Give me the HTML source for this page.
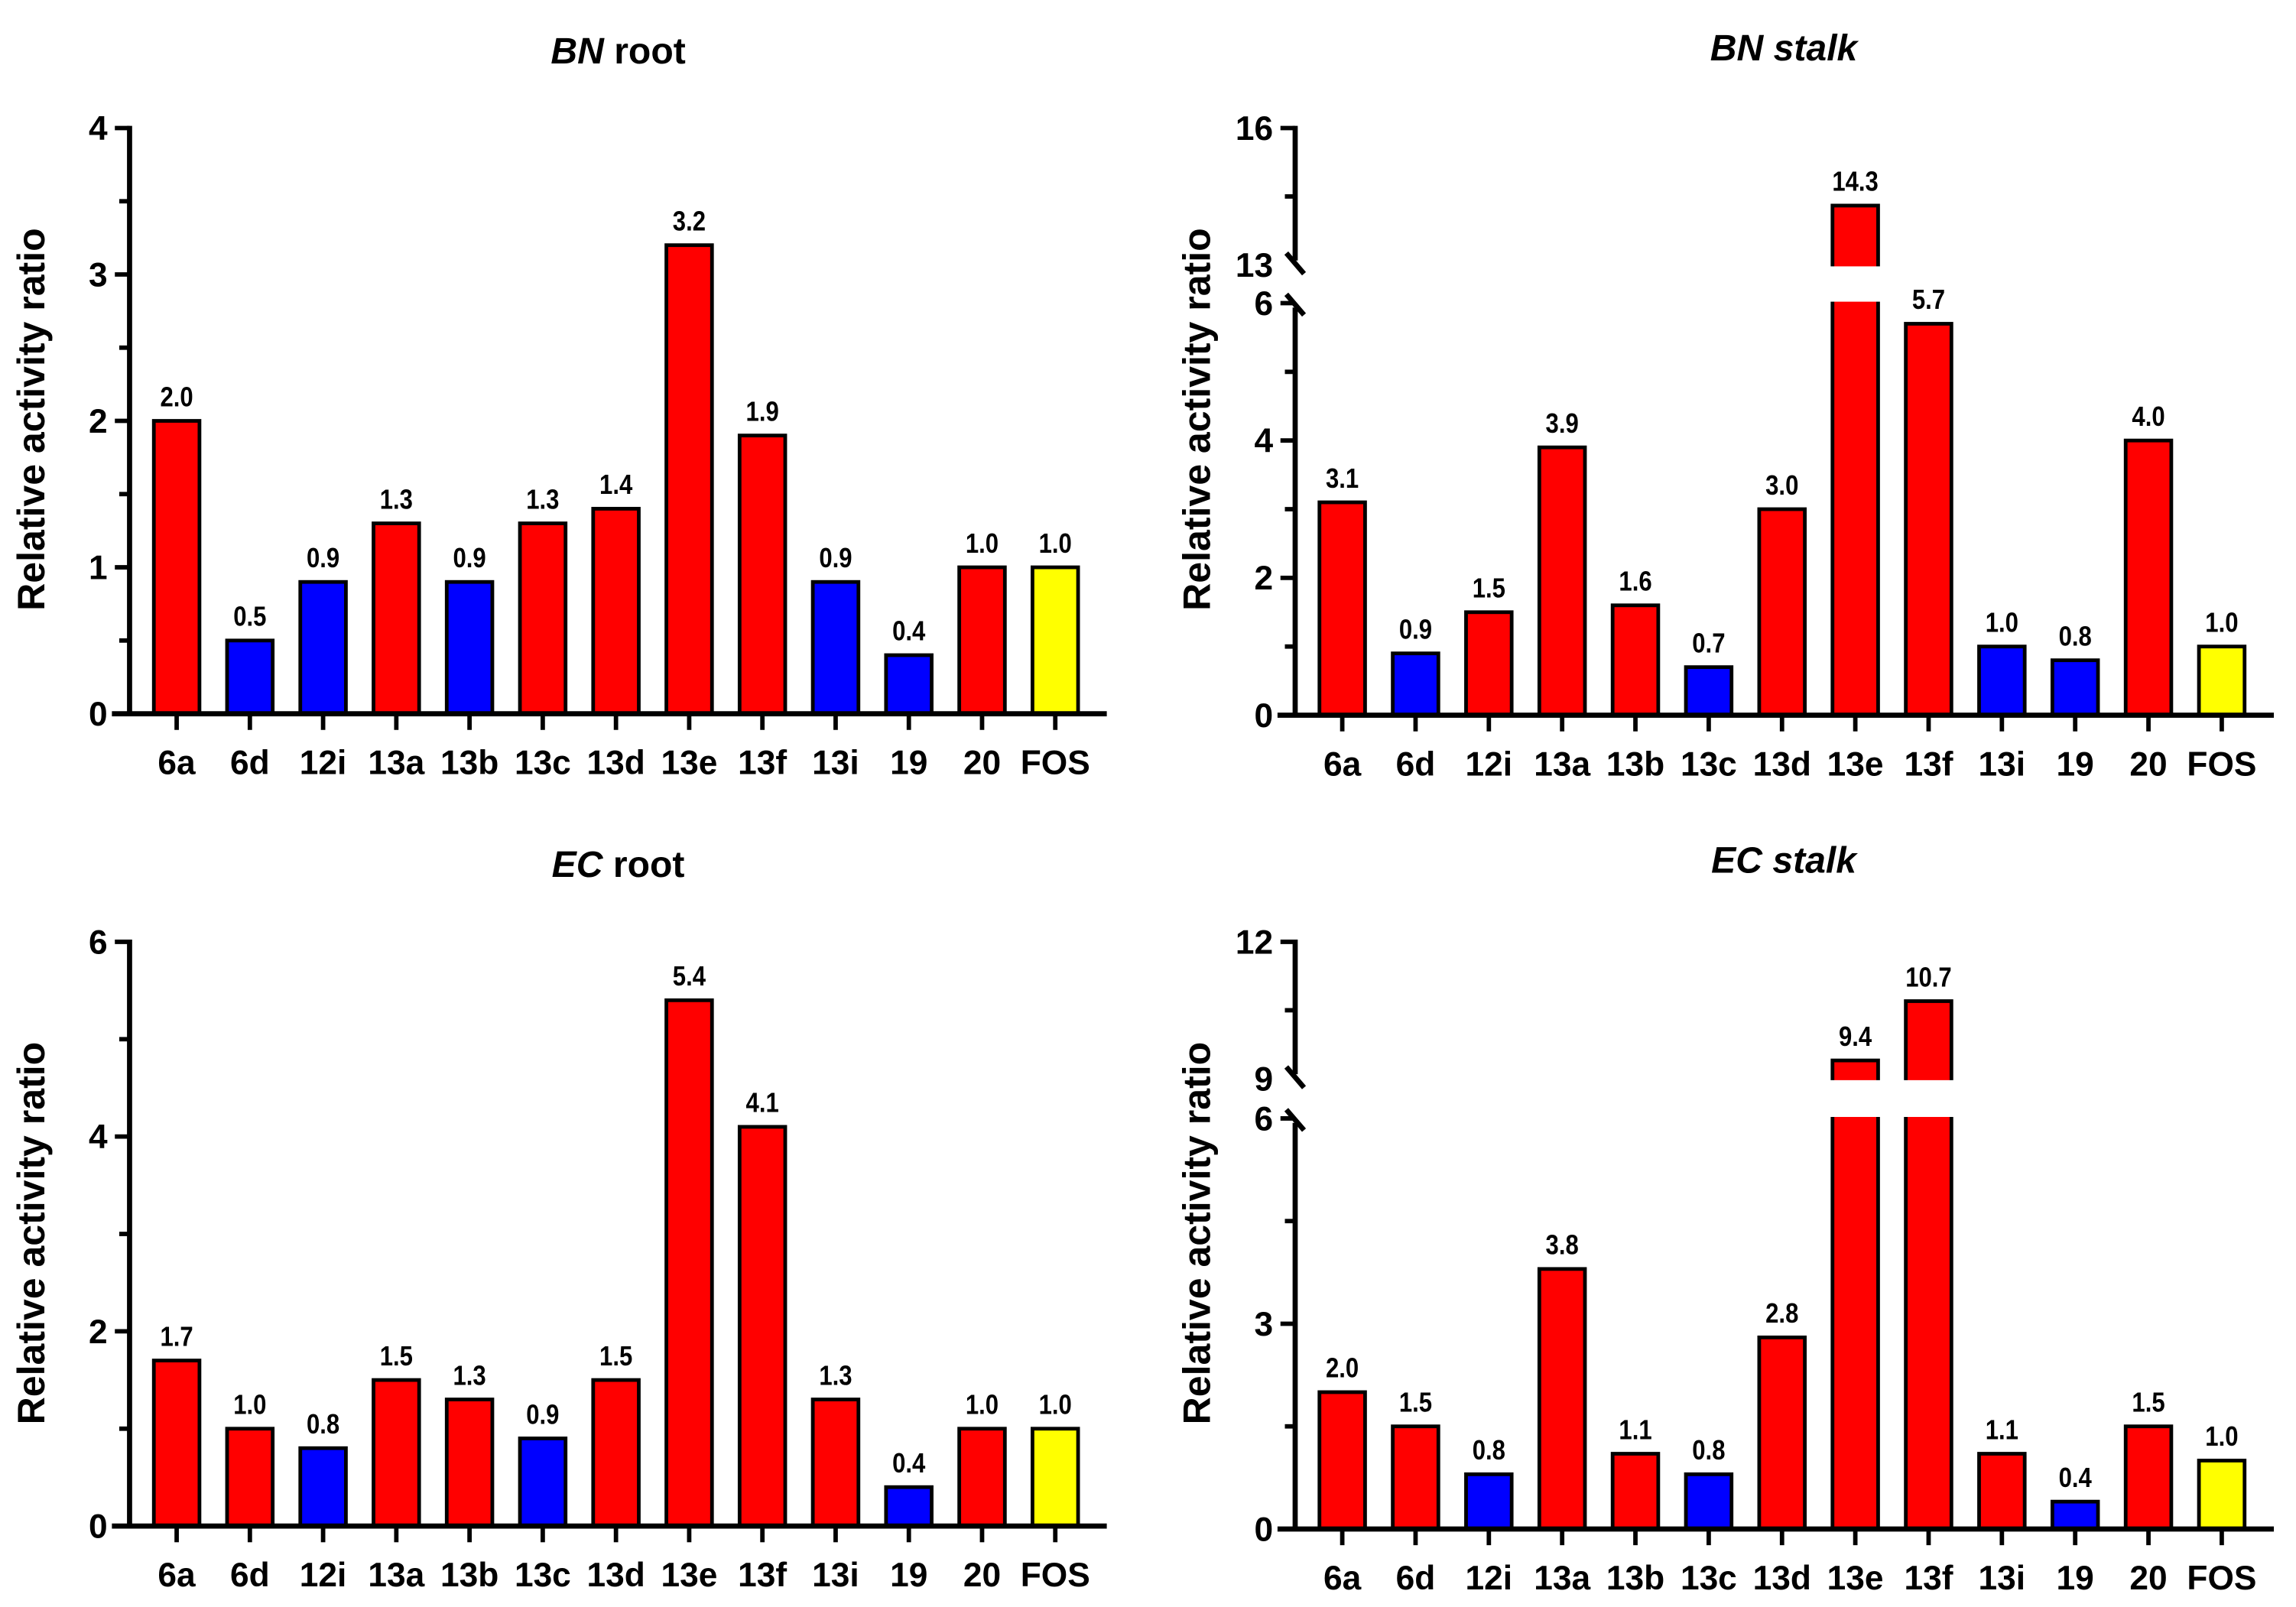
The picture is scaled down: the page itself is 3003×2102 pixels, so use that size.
<!DOCTYPE html>
<html><head><meta charset="utf-8">
<style>
html,body{margin:0;padding:0;background:#fff;}
svg{display:block;}
text{font-family:"Liberation Sans",Arial,sans-serif;font-weight:bold;fill:#000;}
</style></head>
<body>
<svg id="chart" width="3003" height="2102" viewBox="0 0 1560 1092" xmlns="http://www.w3.org/2000/svg"></svg>
<script>
const categories = ["6a","6d","12i","13a","13b","13c","13d","13e","13f","13i","19","20","FOS"];
const colorKeys = ["r","b","b","r","b","r","r","r","r","b","b","r","y"];
const colorKeysEcRoot = ["r","r","b","r","r","b","r","r","r","r","b","r","y"];
const colorKeysBnStalk = ["r","b","r","r","r","b","r","r","r","b","b","r","y"];
const colorKeysEcStalk = ["r","r","b","r","r","b","r","r","r","r","b","r","y"];
const bnRootValues = [2.0,0.5,0.9,1.3,0.9,1.3,1.4,3.2,1.9,0.9,0.4,1.0,1.0];
const bnStalkValues = [3.1,0.9,1.5,3.9,1.6,0.7,3.0,14.3,5.7,1.0,0.8,4.0,1.0];
const ecRootValues = [1.7,1.0,0.8,1.5,1.3,0.9,1.5,5.4,4.1,1.3,0.4,1.0,1.0];
const ecStalkValues = [2.0,1.5,0.8,3.8,1.1,0.8,2.8,9.4,10.7,1.1,0.4,1.5,1.0];
const bnRootTicks = [0,1,2,3,4];
const bnStalkTicksLow = [0,2,4,6];
const bnStalkTicksHigh = [13,16];
const ecRootTicks = [0,2,4,6];
const ecStalkTicksLow = [0,3,6];
const ecStalkTicksHigh = [9,12];

const COLORS = {r:"#ff0000", b:"#0000ff", y:"#ffff00"};
const svg = document.getElementById('chart');
const NS = "http://www.w3.org/2000/svg";
function mk(tag, attrs, parent){
  const e = document.createElementNS(NS, tag);
  for (const k in attrs) e.setAttribute(k, attrs[k]);
  (parent||svg).appendChild(e);
  return e;
}

function panel(o){
  const g = mk('g', {});
  
  
  const y = v => {
    if (!o.brk) return o.y0 - (v - o.lo) / (o.hi - o.lo) * (o.y0 - o.yTop);
    if (v <= o.brk.lowMax) return o.y0 - v / o.brk.lowMax * (o.y0 - o.brk.yLowTop);
    return o.brk.yHighBot - (v - o.brk.highMin) / (o.hi - o.brk.highMin) * (o.brk.yHighBot - o.yTop);
  };
  const x = i => o.x1 + i * o.step;
  const t = mk('text', {x:o.tx, y:o.ty, 'font-size':25, 'text-anchor':'middle'}, g);
  
  
  const it = mk('tspan', {'font-style':'italic'}, t); it.textContent = o.titleA;
  const rt = mk('tspan', {'font-style':o.titleItalic ? 'italic':'normal'}, t); rt.textContent = ' ' + o.titleB;
  const yt = mk('text', {x:0, y:0, 'font-size':26, 'text-anchor':'middle', transform:`translate(${o.ax-58},${o.ylabY}) rotate(-90)`}, g);
  
  
  yt.textContent = 'Relative activity ratio';
  o.values.forEach((v, i) => {
    const cx = x(i), w = 31;
    const top = y(v);
    const r = mk('rect', {x:cx - w/2, y:top, width:w, height:o.y0 - top, fill:COLORS[o.colors[i]], stroke:'#000', 'stroke-width':2.5}, g);
    
    
    if (o.brk && v > o.brk.lowMax) {
      const gap = mk('rect', {x:cx - w/2 - 3, y:o.brk.yHighBot + 1, width:w + 6, height:o.brk.yLowTop - o.brk.yHighBot - 2, fill:'#fff'}, g);
      
      
    }
    const lb = mk('text', {x:cx, y:top - 10, 'font-size':19, 'text-anchor':'middle', transform:`translate(${cx},0) scale(0.85,1) translate(${-cx},0)`}, g);
    
    
    lb.textContent = v.toFixed(1);
    mk('line', {x1:cx, y1:o.y0, x2:cx, y2:o.y0 + 11, stroke:'#000', 'stroke-width':3}, g);
    const xl = mk('text', {x:cx, y:o.y0 + 41, 'font-size':23, 'text-anchor':'middle'}, g);
    
    
    xl.textContent = categories[i];
  });
  const xa = mk('line', {x1:o.ax - 12, y1:o.y0, x2:o.axEnd, y2:o.y0, stroke:'#000', 'stroke-width':3.5}, g);
  
  
  const tickG = (v, major) => {
    const yy = y(v);
    mk('line', {x1:o.ax - (major ? 10 : 7), y1:yy, x2:o.ax, y2:yy, stroke:'#000', 'stroke-width':3}, g);
    if (major) {
      const tl = mk('text', {x:o.ax - 15, y:yy + 8, 'font-size':23, 'text-anchor':'end'}, g);
      
      
      tl.textContent = v;
    }
  };
  if (!o.brk) {
    const ya = mk('line', {x1:o.ax, y1:o.yTop - 1.5, x2:o.ax, y2:o.y0, stroke:'#000', 'stroke-width':3.5}, g);
    
    
    o.ticks.forEach((v, k) => {
      tickG(v, true);
      if (k < o.ticks.length - 1) tickG((v + o.ticks[k+1]) / 2, false);
    });
  } else {
    const b = o.brk;
    const ya1 = mk('line', {x1:o.ax, y1:b.yLowTop + 3, x2:o.ax, y2:o.y0, stroke:'#000', 'stroke-width':3.5}, g);
    
    
    const ya2 = mk('line', {x1:o.ax, y1:o.yTop - 1.5, x2:o.ax, y2:b.yHighBot - 3, stroke:'#000', 'stroke-width':3.5}, g);
    
    
    mk('line', {x1:o.ax - 6, y1:b.yHighBot - 8, x2:o.ax + 6, y2:b.yHighBot + 6, stroke:'#000', 'stroke-width':3.5}, g);
    mk('line', {x1:o.ax - 6, y1:b.yLowTop - 6, x2:o.ax + 6, y2:b.yLowTop + 8, stroke:'#000', 'stroke-width':3.5}, g);
    b.low.forEach((v, k) => {
      tickG(v, true);
      if (k < b.low.length - 1) tickG((v + b.low[k+1]) / 2, false);
    });
    b.high.forEach((v, k) => {
      const yy = y(v);
      if (k > 0) mk('line', {x1:o.ax - 10, y1:yy, x2:o.ax, y2:yy, stroke:'#000', 'stroke-width':3}, g);
      const tl = mk('text', {x:o.ax - 15, y:yy + 8, 'font-size':23, 'text-anchor':'end'}, g);
      
      
      tl.textContent = v;
      if (k < b.high.length - 1) tickG((v + b.high[k+1]) / 2, false);
    });
  }
}

panel({name:'bn-root-panel', titleA:'BN', titleB:'root', titleItalic:false, tx:420, ty:43,
  ax:88, axEnd:752, x1:120, step:49.75, y0:485, yTop:87, lo:0, hi:4,
  ticks:bnRootTicks, values:bnRootValues, colors:colorKeys, ylabY:285});
panel({name:'bn-stalk-panel', titleA:'BN', titleB:'stalk', titleItalic:true, tx:1212, ty:41,
  ax:880, axEnd:1545, x1:912, step:49.8, y0:486, yTop:87, hi:16,
  brk:{lowMax:6, highMin:13, yLowTop:206, yHighBot:180, low:bnStalkTicksLow, high:bnStalkTicksHigh},
  values:bnStalkValues, colors:colorKeysBnStalk, ylabY:285});
panel({name:'ec-root-panel', titleA:'EC', titleB:'root', titleItalic:false, tx:420, ty:596,
  ax:88, axEnd:752, x1:120, step:49.75, y0:1037, yTop:640, lo:0, hi:6,
  ticks:ecRootTicks, values:ecRootValues, colors:colorKeysEcRoot, ylabY:838});
panel({name:'ec-stalk-panel', titleA:'EC', titleB:'stalk', titleItalic:true, tx:1212, ty:593,
  ax:880, axEnd:1545, x1:912, step:49.8, y0:1039, yTop:640, hi:12,
  brk:{lowMax:6, highMin:9, yLowTop:760, yHighBot:733, low:ecStalkTicksLow, high:ecStalkTicksHigh},
  values:ecStalkValues, colors:colorKeysEcStalk, ylabY:838});
</script>
</body></html>
